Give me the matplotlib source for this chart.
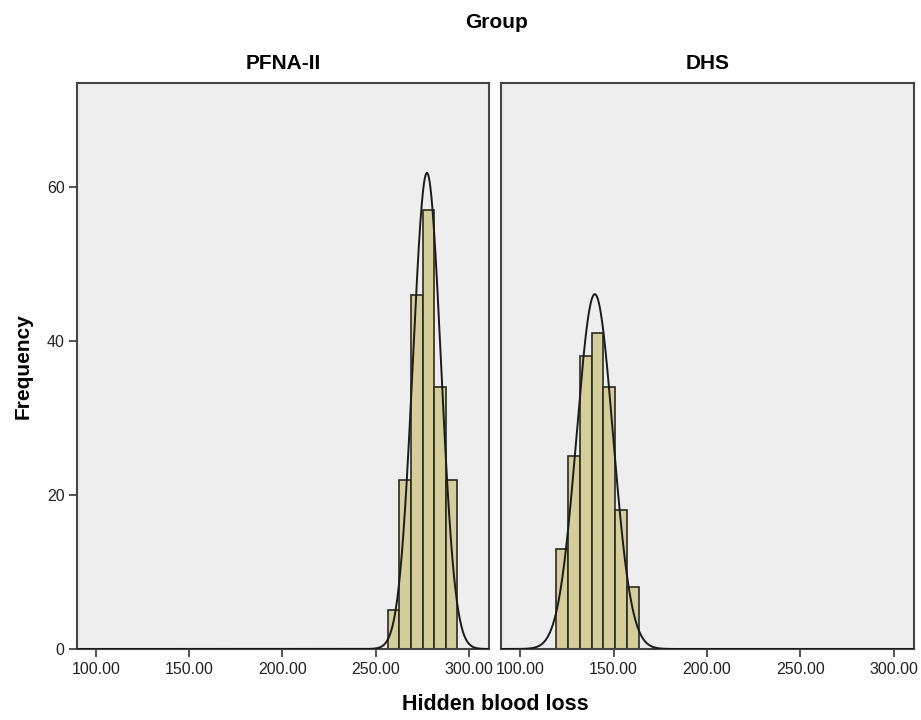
import numpy as np
import matplotlib
matplotlib.use("Agg")
import matplotlib.pyplot as plt

groups = ["PFNA-II", "DHS"]
# bin edges start, bin width, and counts
pfna_start = 256.4
pfna_width = 6.25
pfna_counts = [5, 22, 46, 57, 34, 22]
pfna_mean = 277.5
pfna_sd = 7.5

dhs_start = 119.3
dhs_width = 6.33
dhs_counts = [13, 25, 38, 41, 34, 18, 8]
dhs_mean = 140.0
dhs_sd = 9.7

xticks = [100, 150, 200, 250, 300]
yticks = [0, 20, 40, 60]

font = "Liberation Sans"

fig = plt.figure(figsize=(9.21, 7.2), dpi=100)
W, H = 921, 720
def rect(x0, x1, y0, y1):
    return [x0 / W, 1 - y1 / H, (x1 - x0) / W, (y1 - y0) / H]

ax1 = fig.add_axes(rect(77, 489, 83, 649))
ax2 = fig.add_axes(rect(501, 914, 83, 649))

data = [(pfna_start, pfna_width, pfna_counts, pfna_mean, pfna_sd),
        (dhs_start, dhs_width, dhs_counts, dhs_mean, dhs_sd)]

for ax, name, (start, w, counts, mu, sd) in zip([ax1, ax2], groups, data):
    ax.set_facecolor("#EEEEEE")
    n = len(counts)
    lefts = start + w * np.arange(n)
    ax.bar(lefts, counts, width=w, align="edge", color="#D3CE9A",
           edgecolor="#2a2a20", linewidth=1.2, zorder=2)
    N = sum(counts)
    xs = np.linspace(80, 320, 1200)
    ys = N * w / (sd * np.sqrt(2 * np.pi)) * np.exp(-0.5 * ((xs - mu) / sd) ** 2)
    ax.plot(xs, ys, color="#1a1a1a", linewidth=1.4, zorder=3)
    ax.set_xlim(89.8, 310.8)
    ax.set_ylim(0, 73.5)
    ax.set_xticks(xticks)
    ax.set_xticklabels([f"{t:.2f}" for t in xticks], fontfamily=font, fontsize=11.5, color="#222222")
    ax.set_yticks(yticks)
    ax.set_yticklabels([str(t) for t in yticks], fontfamily=font, fontsize=11.5, color="#222222")
    for s in ax.spines.values():
        s.set_color("#444444")
        s.set_linewidth(1.5)
    ax.tick_params(direction="out", length=6, width=1.3, color="#444444", pad=3)
    ax.set_title(name, fontfamily=font, fontweight="bold", fontsize=15, pad=10)

ax2.tick_params(axis="y", left=False, labelleft=False)

ax1.set_ylabel("Frequency", fontfamily=font, fontweight="bold", fontsize=15, labelpad=10)
fig.text(495 / W, 1 - 705 / H, "Hidden blood loss", ha="center", va="center",
         fontfamily=font, fontweight="bold", fontsize=15.5)
fig.text(497 / W, 1 - 22 / H, "Group", ha="center", va="center",
         fontfamily=font, fontweight="bold", fontsize=15)

fig.savefig("out.png", dpi=100, facecolor="white")
